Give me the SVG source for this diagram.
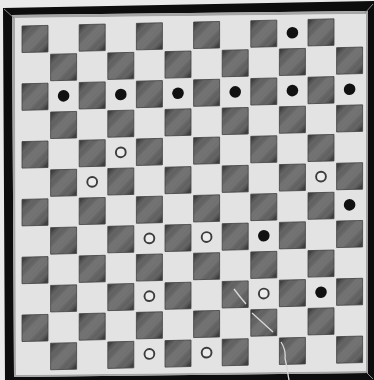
<svg xmlns="http://www.w3.org/2000/svg" xmlns:xlink="http://www.w3.org/1999/xlink" width="374" height="380" viewBox="0 0 374 380">
<style>
.blk{fill:#111}
.wht{fill:#ececec;stroke:#3c3c3c;stroke-width:1.9}
.miter{stroke:#8a8a8a;stroke-width:1;fill:none}
</style>
<defs>
<linearGradient id="sqg" x1="0" y1="0" x2="1" y2="1">
<stop offset="0" stop-color="#222"/>
<stop offset="0.14" stop-color="#555"/>
<stop offset="0.5" stop-color="#747474"/>
<stop offset="0.86" stop-color="#565656"/>
<stop offset="1" stop-color="#222"/>
</linearGradient>
<pattern id="hatch" width="7" height="7" patternUnits="userSpaceOnUse" patternTransform="rotate(-45)">
<rect width="7" height="2.5" fill="#a0a0a0" opacity="0.12"/>
</pattern>
<g id="sq">
<rect width="26" height="26.5" fill="url(#sqg)" stroke="#3e3e3e" stroke-width="0.8"/>
<rect width="26" height="26.5" fill="url(#hatch)"/>
</g>
</defs>
<rect width="374" height="380" fill="#eaeaea"/>
<g id="frame">
<path d="M3 8 L376 1 L376 382 L5 382 Z M12 15 L368 11 L368 373 L14 377 Z" fill="#0d0d0d" fill-rule="evenodd"/>
<path d="M12 15 L368 11 L368 373 L14 377 Z M15 18 L366 14 L366 371 L16 375 Z" fill="#a6a6a6" fill-rule="evenodd"/>
<path d="M15 18 L366 14 L366 371 L16 375 Z" fill="#e3e3e3"/>
<line class="miter" x1="4" y1="9" x2="14" y2="18"/>
<line class="miter" x1="373" y1="4" x2="365" y2="13"/>
<line class="miter" x1="366" y1="372" x2="373" y2="379"/>
</g>
<g id="board" transform="matrix(1,-0.023,0,1,0,0.506)">
<g id="squares">
<use href="#sq" x="22" y="26"/><use href="#sq" x="79.2" y="26"/><use href="#sq" x="136.4" y="26"/><use href="#sq" x="193.6" y="26"/><use href="#sq" x="250.8" y="26"/><use href="#sq" x="308" y="26"/>
<use href="#sq" x="50.6" y="54.9"/><use href="#sq" x="107.8" y="54.9"/><use href="#sq" x="165" y="54.9"/><use href="#sq" x="222.2" y="54.9"/><use href="#sq" x="279.4" y="54.9"/><use href="#sq" x="336.6" y="54.9"/>
<use href="#sq" x="22" y="83.8"/><use href="#sq" x="79.2" y="83.8"/><use href="#sq" x="136.4" y="83.8"/><use href="#sq" x="193.6" y="83.8"/><use href="#sq" x="250.8" y="83.8"/><use href="#sq" x="308" y="83.8"/>
<use href="#sq" x="50.6" y="112.7"/><use href="#sq" x="107.8" y="112.7"/><use href="#sq" x="165" y="112.7"/><use href="#sq" x="222.2" y="112.7"/><use href="#sq" x="279.4" y="112.7"/><use href="#sq" x="336.6" y="112.7"/>
<use href="#sq" x="22" y="141.6"/><use href="#sq" x="79.2" y="141.6"/><use href="#sq" x="136.4" y="141.6"/><use href="#sq" x="193.6" y="141.6"/><use href="#sq" x="250.8" y="141.6"/><use href="#sq" x="308" y="141.6"/>
<use href="#sq" x="50.6" y="170.5"/><use href="#sq" x="107.8" y="170.5"/><use href="#sq" x="165" y="170.5"/><use href="#sq" x="222.2" y="170.5"/><use href="#sq" x="279.4" y="170.5"/><use href="#sq" x="336.6" y="170.5"/>
<use href="#sq" x="22" y="199.4"/><use href="#sq" x="79.2" y="199.4"/><use href="#sq" x="136.4" y="199.4"/><use href="#sq" x="193.6" y="199.4"/><use href="#sq" x="250.8" y="199.4"/><use href="#sq" x="308" y="199.4"/>
<use href="#sq" x="50.6" y="228.3"/><use href="#sq" x="107.8" y="228.3"/><use href="#sq" x="165" y="228.3"/><use href="#sq" x="222.2" y="228.3"/><use href="#sq" x="279.4" y="228.3"/><use href="#sq" x="336.6" y="228.3"/>
<use href="#sq" x="22" y="257.2"/><use href="#sq" x="79.2" y="257.2"/><use href="#sq" x="136.4" y="257.2"/><use href="#sq" x="193.6" y="257.2"/><use href="#sq" x="250.8" y="257.2"/><use href="#sq" x="308" y="257.2"/>
<use href="#sq" x="50.6" y="286.1"/><use href="#sq" x="107.8" y="286.1"/><use href="#sq" x="165" y="286.1"/><use href="#sq" x="222.2" y="286.1"/><use href="#sq" x="279.4" y="286.1"/><use href="#sq" x="336.6" y="286.1"/>
<use href="#sq" x="22" y="315"/><use href="#sq" x="79.2" y="315"/><use href="#sq" x="136.4" y="315"/><use href="#sq" x="193.6" y="315"/><use href="#sq" x="250.8" y="315"/><use href="#sq" x="308" y="315"/>
<use href="#sq" x="50.6" y="343.9"/><use href="#sq" x="107.8" y="343.9"/><use href="#sq" x="165" y="343.9"/><use href="#sq" x="222.2" y="343.9"/><use href="#sq" x="279.4" y="343.9"/><use href="#sq" x="336.6" y="343.9"/>
</g>
<g id="pieces">
<circle class="blk" cx="292.4" cy="39" r="5.8"/>
<circle class="blk" cx="63.6" cy="96.8" r="5.8"/><circle class="blk" cx="120.8" cy="96.8" r="5.8"/><circle class="blk" cx="178" cy="96.8" r="5.8"/><circle class="blk" cx="235.2" cy="96.8" r="5.8"/><circle class="blk" cx="292.4" cy="96.8" r="5.8"/><circle class="blk" cx="349.6" cy="96.8" r="5.8"/>
<circle class="wht" cx="120.8" cy="154.6" r="4.9"/>
<circle class="wht" cx="92.2" cy="183.5" r="4.9"/><circle class="wht" cx="321" cy="183.5" r="4.9"/>
<circle class="blk" cx="349.6" cy="212.4" r="5.8"/>
<circle class="wht" cx="149.4" cy="241.3" r="4.9"/><circle class="wht" cx="206.6" cy="241.3" r="4.9"/><circle class="blk" cx="263.8" cy="241.3" r="5.8"/>
<circle class="wht" cx="149.4" cy="299.1" r="4.9"/><circle class="wht" cx="263.8" cy="299.1" r="4.9"/><circle class="blk" cx="321" cy="299.1" r="5.8"/>
<circle class="wht" cx="149.4" cy="356.9" r="4.9"/><circle class="wht" cx="206.6" cy="356.9" r="4.9"/>
</g>
</g>
<path id="scratch" d="M234 289 Q240 297 246 304 M252 313 L273 332 M281 342 Q286 350 285 358 Q287 368 289 380" fill="none" stroke="#d8d8d8" stroke-width="1.3"/>
</svg>
